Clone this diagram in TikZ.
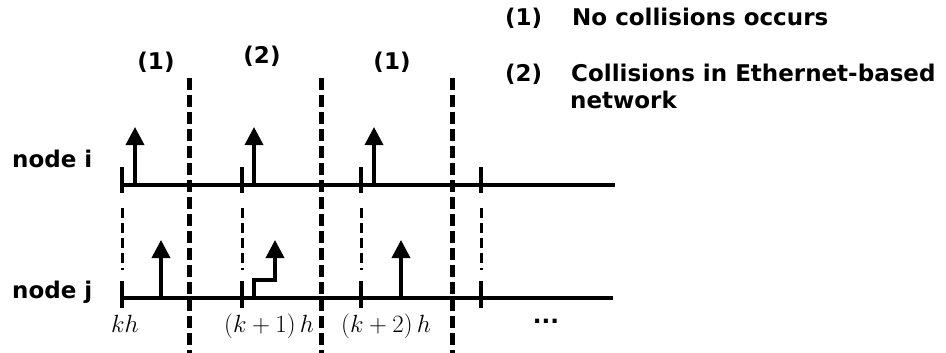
\documentclass[tikz,border=0pt]{standalone}
\usepackage{fontspec}
\setmainfont{DejaVu Sans}
\usetikzlibrary{arrows.meta}
\begin{document}
\begin{tikzpicture}[x=1pt,y=-1pt,
  lbl/.style={font=\fontsize{23}{27}\selectfont\bfseries, inner sep=0pt},
  mathlbl/.style={font=\fontsize{25}{29}\selectfont, inner sep=0pt, anchor=base west},
  axisline/.style={line width=4pt},
  ticky/.style={line width=4pt},
  sepline/.style={line width=5pt, dash pattern=on 12pt off 5pt},
  guide/.style={line width=3pt, dash pattern=on 10pt off 5pt},
  msg/.style={line width=3.5pt, -{Triangle[width=18pt,length=18pt]}}
]
\useasboundingbox (0,0) rectangle (946,353);

% axes
\coordinate (ia) at (120,185); \coordinate (ib) at (615,185);
\coordinate (ja) at (120,298); \coordinate (jb) at (613,298);
\draw[axisline] (ia) -- (ib);
\draw[axisline] (ja) -- (jb);

% ticks and guides
\foreach \x/\n in {122/a,242/b,361/c,481/d}{
  \coordinate (it\n1) at (\x,167); \coordinate (it\n2) at (\x,193);
  \coordinate (jt\n1) at (\x,281); \coordinate (jt\n2) at (\x,308);
  \coordinate (g\n1) at (\x,208); \coordinate (g\n2) at (\x,270);
  \draw[ticky] (it\n1) -- (it\n2);
  \draw[ticky] (jt\n1) -- (jt\n2);
  \draw[guide] (g\n1) -- (g\n2);
}

% separators
\foreach \x/\n in {189/a,321/b,452/c}{
  \coordinate (s\n1) at (\x,78); \coordinate (s\n2) at (\x,355);
  \draw[sepline] (s\n1) -- (s\n2);
}

% messages node i
\foreach \x/\n in {135/a,254/b,374/c}{
  \coordinate (mi\n1) at (\x,186); \coordinate (mi\n2) at (\x,127);
  \draw[msg] (mi\n1) -- (mi\n2);
}
% messages node j
\foreach \x/\n in {161/a,401/c}{
  \coordinate (mj\n1) at (\x,299); \coordinate (mj\n2) at (\x,240);
  \draw[msg] (mj\n1) -- (mj\n2);
}
\coordinate (mjb1) at (254,299); \coordinate (mjb2) at (275,240);
\draw[msg, line join=miter] (mjb1) |- (254,280) -| (mjb2);

% labels
\node[lbl, anchor=base west] (ni) at (12,167) {node i};
\node[lbl, anchor=base west] (nj) at (12,298) {node j};
\node[lbl] (p1) at (156,62) {(1)};
\node[lbl] (p2) at (262,56) {(2)};
\node[lbl] (p3) at (392,62) {(1)};

\node[lbl, anchor=base west] (l1n) at (505,26) {(1)};
\node[lbl, anchor=base west] (l1t) at (572,26) {No collisions occurs};
\node[lbl, anchor=base west] (l2n) at (505,82) {(2)};
\node[lbl, anchor=base west] (l2t) at (571,82) {Collisions in Ethernet-based};
\node[lbl, anchor=base west] (l2u) at (570,108) {network};

\node[mathlbl] (t0) at (111,332) {$kh$};
\node[mathlbl] (t1) at (224,332) {$\left(k+1\right)h$};
\node[mathlbl] (t2) at (341,332) {$\left(k+2\right)h$};
\node[lbl, anchor=base] (dots) at (546,323) {...};
\end{tikzpicture}
\end{document}
